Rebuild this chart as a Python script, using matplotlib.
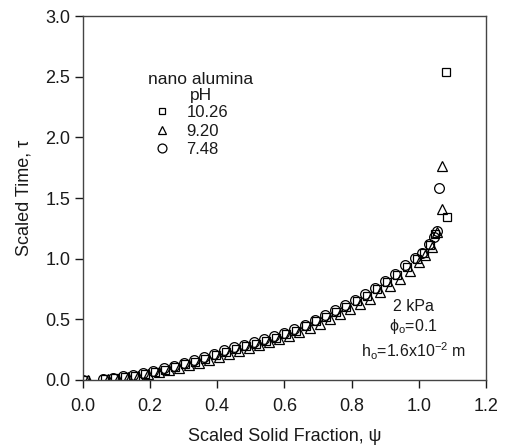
import matplotlib
matplotlib.use("Agg")
import matplotlib.pyplot as plt
from matplotlib.lines import Line2D

plt.rcParams["font.family"] = ["Liberation Sans", "DejaVu Sans"]
plt.rcParams["mathtext.fontset"] = "custom"
plt.rcParams["mathtext.rm"] = "Liberation Sans"
plt.rcParams["mathtext.it"] = "Liberation Sans:italic"

# pH 10.26 (squares)
psi_sq = [0.005, 0.065, 0.095, 0.125, 0.155, 0.185, 0.215, 0.245, 0.275, 0.305,
          0.335, 0.365, 0.395, 0.425, 0.455, 0.485, 0.515, 0.545, 0.575, 0.605,
          0.635, 0.665, 0.695, 0.725, 0.755, 0.785, 0.815, 0.845, 0.875, 0.905,
          0.935, 0.965, 0.995, 1.015, 1.035, 1.05, 1.085, 1.083]
tau_sq = [0.0, 0.005, 0.013, 0.024, 0.036, 0.051, 0.067, 0.086, 0.106, 0.128,
          0.151, 0.176, 0.202, 0.228, 0.252, 0.276, 0.300, 0.324, 0.349, 0.376,
          0.407, 0.442, 0.482, 0.522, 0.562, 0.603, 0.648, 0.695, 0.750, 0.805,
          0.865, 0.935, 0.995, 1.05, 1.11, 1.20, 1.34, 2.54]

# pH 9.20 (triangles)
psi_tr = [0.015, 0.075, 0.105, 0.135, 0.165, 0.195, 0.225, 0.255, 0.285, 0.315,
          0.345, 0.375, 0.405, 0.435, 0.465, 0.495, 0.525, 0.555, 0.585, 0.615,
          0.645, 0.675, 0.705, 0.735, 0.765, 0.795, 0.825, 0.855, 0.885, 0.915,
          0.945, 0.975, 1.00, 1.02, 1.04, 1.055, 1.069, 1.069]
tau_tr = [0.0, 0.004, 0.011, 0.021, 0.033, 0.047, 0.062, 0.080, 0.099, 0.120,
          0.142, 0.166, 0.191, 0.217, 0.241, 0.265, 0.289, 0.313, 0.337, 0.363,
          0.392, 0.425, 0.463, 0.503, 0.543, 0.583, 0.625, 0.670, 0.722, 0.777,
          0.835, 0.900, 0.975, 1.03, 1.10, 1.22, 1.41, 1.76]

# pH 7.48 (circles)
psi_ci = [0.0, 0.06, 0.09, 0.12, 0.15, 0.18, 0.21, 0.24, 0.27, 0.30,
          0.33, 0.36, 0.39, 0.42, 0.45, 0.48, 0.51, 0.54, 0.57, 0.60,
          0.63, 0.66, 0.69, 0.72, 0.75, 0.78, 0.81, 0.84, 0.87, 0.90,
          0.93, 0.96, 0.99, 1.01, 1.03, 1.045, 1.055, 1.06]
tau_ci = [0.0, 0.008, 0.017, 0.029, 0.043, 0.059, 0.076, 0.096, 0.118, 0.141,
          0.165, 0.191, 0.218, 0.244, 0.268, 0.292, 0.316, 0.340, 0.364, 0.391,
          0.421, 0.456, 0.496, 0.536, 0.576, 0.616, 0.661, 0.706, 0.761, 0.816,
          0.876, 0.946, 1.005, 1.05, 1.12, 1.18, 1.23, 1.58]

ph_labels = ["10.26", "9.20", "7.48"]
markers = ["s", "^", "o"]
marker_sizes = {"s": 5.6, "^": 6.6, "o": 7.0}

TEXT = "#1a1a1a"

fig = plt.figure(figsize=(5.06, 4.47), dpi=100)
ax = fig.add_axes([0.164, 0.150, 0.796, 0.814])

series = [(psi_sq, tau_sq), (psi_tr, tau_tr), (psi_ci, tau_ci)]
for (x, y), m in zip(series, markers):
    ax.plot(x, y, linestyle="none", marker=m, markersize=marker_sizes[m],
            markerfacecolor="none", markeredgecolor="black", markeredgewidth=0.9)

ax.set_xlim(0, 1.2)
ax.set_ylim(0, 3.0)
ax.set_xticks([0.0, 0.2, 0.4, 0.6, 0.8, 1.0, 1.2])
ax.set_yticks([0.0, 0.5, 1.0, 1.5, 2.0, 2.5, 3.0])
ax.xaxis.set_major_formatter(plt.FormatStrFormatter("%.1f"))
ax.yaxis.set_major_formatter(plt.FormatStrFormatter("%.1f"))
ax.tick_params(direction="out", length=6, width=1, labelsize=13, pad=3,
               colors=TEXT)
ax.tick_params(axis="x", pad=7)
for s in ax.spines.values():
    s.set_linewidth(1.0)
    s.set_color("#444444")

ax.set_xlabel("Scaled Solid Fraction, ψ", fontsize=13, labelpad=9, color=TEXT)
ax.set_ylabel("Scaled Time, τ", fontsize=13, labelpad=9, color=TEXT)

# legend header, then the marker key below it
ax.text(0.292, 0.803, "nano alumina\npH", transform=ax.transAxes,
        ha="center", va="center", multialignment="center", fontsize=12.5,
        linespacing=1.12, color=TEXT)

handles = [Line2D([], [], linestyle="none", marker=m, markersize=marker_sizes[m] - 0.6,
                  markerfacecolor="none", markeredgecolor="black",
                  markeredgewidth=0.9) for m in markers]
ax.legend(handles, ph_labels, frameon=False, loc="upper left",
          bbox_to_anchor=(0.176, 0.755), fontsize=12, handletextpad=0.95,
          labelspacing=0.2, borderpad=0, borderaxespad=0, handlelength=1.0,
          labelcolor=TEXT)

ax.text(0.82, 0.137, "2 kPa\n" + r"$\mathregular{ϕ_o}$=0.1" + "\n"
        + r"h$_\mathregular{o}$=1.6x10$^\mathregular{-2}$ m",
        transform=ax.transAxes, ha="center", va="center", fontsize=11.5,
        linespacing=1.25, color=TEXT)

fig.savefig("out.png", dpi=100)
